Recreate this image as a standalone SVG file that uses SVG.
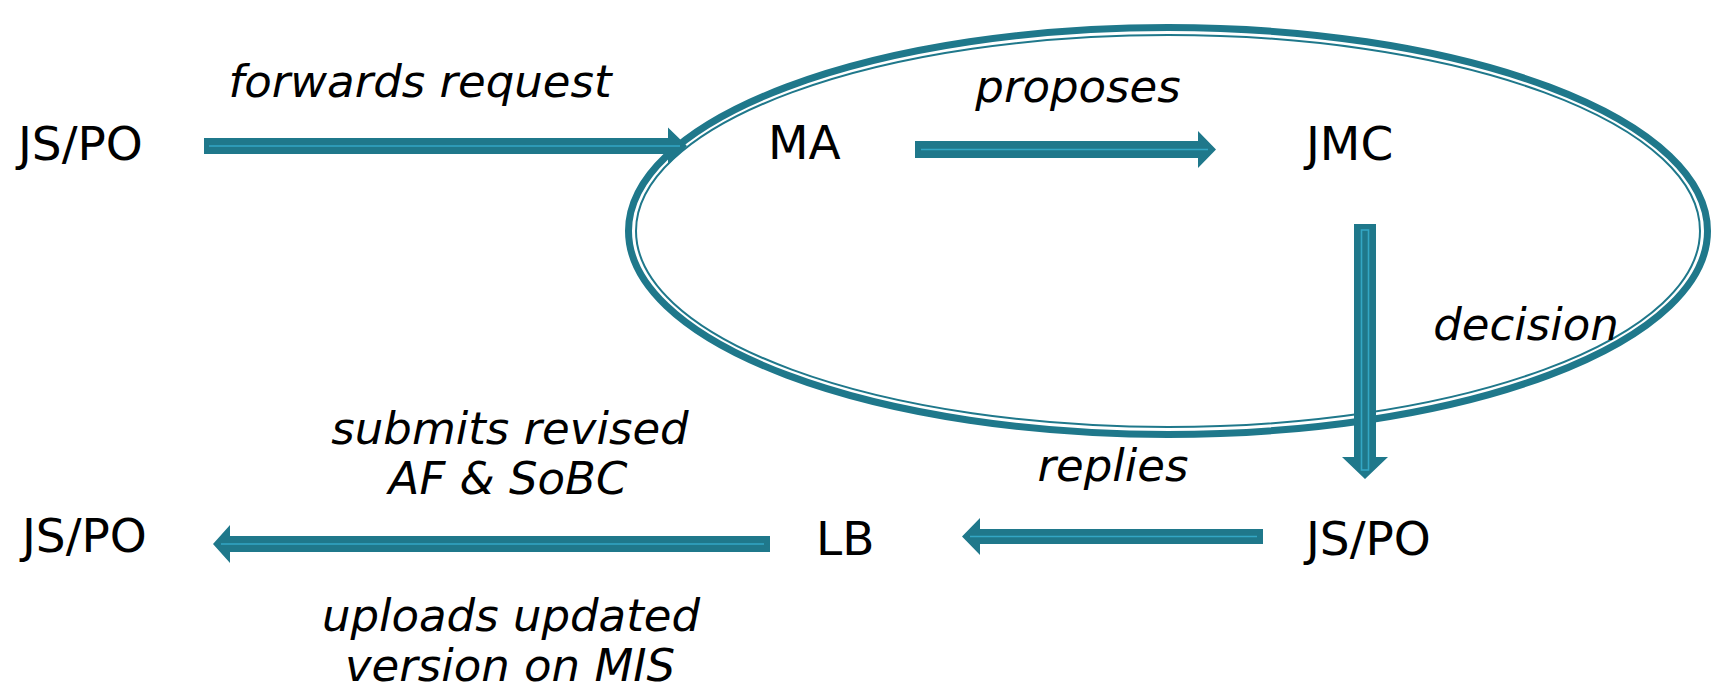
<svg xmlns="http://www.w3.org/2000/svg" width="1713" height="690" viewBox="0 0 1713 690">
  <style>
    .node { font-family: "DejaVu Sans", "Liberation Sans", sans-serif; font-size: 47px; fill: #000; }
    .lbl { font-family: "DejaVu Sans", "Liberation Sans", sans-serif; font-size: 45px; font-style: italic; fill: #000; }
    .ring-outer { fill: none; stroke: #1f788b; stroke-width: 7; }
    .ring-inner { fill: none; stroke: #1f788b; stroke-width: 2; }
    .arrow { fill: #1f788b; }
    .core { fill: none; stroke: #33a6c4; stroke-width: 1.6; }
  </style>

  <!-- committee boundary: double-line ellipse -->
  <g id="committee">
    <ellipse class="ring-outer" cx="1168" cy="231" rx="539.5" ry="203.5"/>
    <ellipse class="ring-inner" cx="1168" cy="231" rx="532" ry="196"/>
  </g>

  <!-- connectors -->
  <g id="connectors">
    <!-- JS/PO -> MA -->
    <g id="c-forwards">
      <path class="arrow" d="M204,138 H668 V127.5 L687,146 L668,164.5 V154 H204 Z"/>
      <line class="core" x1="209" y1="146" x2="680" y2="146"/>
    </g>
    <!-- MA -> JMC -->
    <g id="c-proposes">
      <path class="arrow" d="M915,141 H1198 V131 L1216,149.5 L1198,168 V158 H915 Z"/>
      <line class="core" x1="921" y1="149.5" x2="1208" y2="149.5"/>
    </g>
    <!-- JMC -> JS/PO -->
    <g id="c-decision">
      <path class="arrow" d="M1354,224 H1376 V457 H1388 L1365,479 L1342,457 H1354 Z"/>
      <rect class="core" x="1361.5" y="230" width="7" height="240"/>
    </g>
    <!-- JS/PO -> LB -->
    <g id="c-replies">
      <path class="arrow" d="M1263,529 H980 V518 L962,536.5 L980,555 V544 H1263 Z"/>
      <line class="core" x1="1257" y1="536.5" x2="970" y2="536.5"/>
    </g>
    <!-- LB -> JS/PO -->
    <g id="c-submits">
      <path class="arrow" d="M770,536 H230 V525 L213,544 L230,563 V552 H770 Z"/>
      <line class="core" x1="764" y1="544" x2="221" y2="544"/>
    </g>
  </g>

  <!-- nodes -->
  <g id="n-jspo-top"><text class="node" x="18" y="160">JS/PO</text></g>
  <g id="n-ma"><text class="node" x="768" y="159">MA</text></g>
  <g id="n-jmc"><text class="node" x="1306" y="160">JMC</text></g>
  <g id="n-jspo-right"><text class="node" x="1306" y="555">JS/PO</text></g>
  <g id="n-lb"><text class="node" x="816" y="555">LB</text></g>
  <g id="n-jspo-left"><text class="node" x="22" y="552">JS/PO</text></g>

  <!-- connector labels -->
  <g id="labels">
    <text class="lbl" x="420" y="97" text-anchor="middle">forwards request</text>
    <text class="lbl" x="1078" y="102" text-anchor="middle">proposes</text>
    <text class="lbl" x="1526" y="340" text-anchor="middle">decision</text>
    <text class="lbl" x="1113" y="481" text-anchor="middle">replies</text>
    <text class="lbl" x="510" y="444" text-anchor="middle">submits revised</text>
    <text class="lbl" x="508" y="494" text-anchor="middle">AF &amp; SoBC</text>
    <text class="lbl" x="511" y="631" text-anchor="middle">uploads updated</text>
    <text class="lbl" x="510" y="681" text-anchor="middle">version on MIS</text>
  </g>
</svg>
